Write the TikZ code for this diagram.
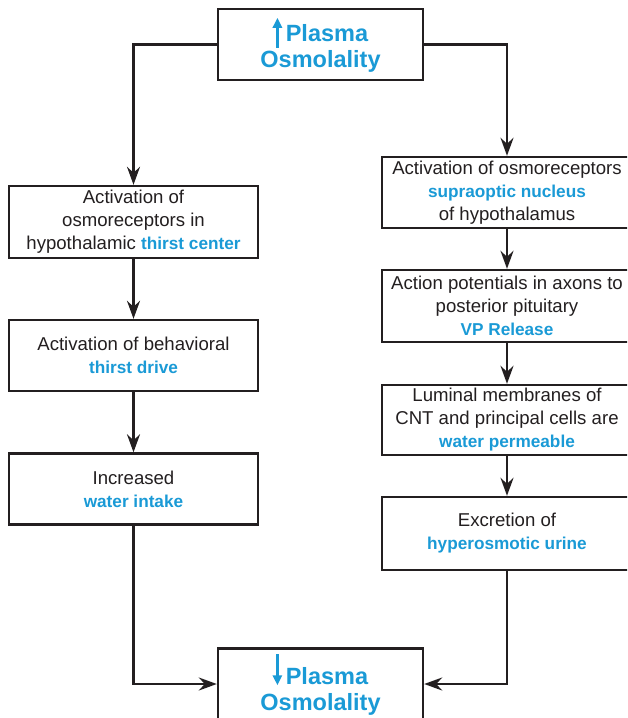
\documentclass[tikz,border=0pt]{standalone}
\usepackage{xcolor}
\usepackage{tikz}
\usepackage{fontspec}
\setmainfont{Liberation Sans}
\usetikzlibrary{arrows.meta,positioning}
\definecolor{OsmoBlue} {HTML}{1A9AD6}
\definecolor{InkBlack} {HTML}{231F20}
\newcommand{\blueword}[1]{{\fontsize{17.2}{23}\selectfont\bfseries\color{OsmoBlue}#1}}
\newcommand{\upArr}{\tikz[baseline=0pt]\draw[OsmoBlue,line width=2.8pt,-{Triangle[length=10pt,width=9pt]}] (0pt,-6pt) -- (0pt,24pt);}
\newcommand{\dnArr}{\tikz[baseline=0pt]\draw[OsmoBlue,line width=2.8pt,-{Triangle[length=10pt,width=9pt]}] (0pt,30pt) -- (0pt,-1pt);}

\begin{document}
\begin{tikzpicture}[x=1pt,y=-1pt,
    box/.style={draw=InkBlack,line width=2.4pt,fill=white,align=center,
                text=InkBlack,inner sep=2pt,
                font=\fontsize{18.6}{23}\selectfont},
    leftbox/.style={box,minimum width=249pt},
    rightbox/.style={box,minimum width=250pt},
    plasma/.style={box,minimum width=205pt,minimum height=71pt,
                   font=\fontsize{23.5}{26}\selectfont\bfseries,text=OsmoBlue},
    arr/.style={draw=InkBlack,line width=2.4pt,-{Stealth[length=18pt,width=13pt,inset=6pt]}}]
    \path[use as bounding box,clip] (0,0) rectangle (627,718);

    % start and end
    \node[plasma] (plasmaUp) at (320.5,44.5) {\upArr\,Plasma\\Osmolality};
    \node[plasma] (plasmaDn) at (320.5,684) {\dnArr\,Plasma\\Osmolality};

    % thirst branch
    \node[leftbox,minimum height=72pt] (thirstCtr) at (133.5,222)
      {Activation of\\osmoreceptors in\\hypothalamic \blueword{thirst center}};
    \node[leftbox,minimum height=71pt] (thirstDrv) at (133.5,355.5)
      {Activation of behavioral\\\blueword{thirst drive}};
    \node[leftbox,minimum height=71pt] (waterIn) at (133.5,489)
      {Increased\\\blueword{water intake}};

    % vasopressin branch
    \node[rightbox,minimum height=71pt] (osmoRec) at (507,192.5)
      {Activation of osmoreceptors\\\blueword{supraoptic nucleus}\\of hypothalamus};
    \node[rightbox,minimum height=72pt] (vpRel) at (507,306)
      {Action potentials in axons to\\posterior pituitary\\\blueword{VP Release}};
    \node[rightbox,minimum height=70pt] (cntPerm) at (507,420)
      {Luminal membranes of\\CNT and principal cells are\\\blueword{water permeable}};
    \node[rightbox,minimum height=73pt] (urineEx) at (507,533.5)
      {Excretion of\\\blueword{hyperosmotic urine}};

    \draw[arr] (plasmaUp.west) -| (thirstCtr.north);
    \draw[arr] (plasmaUp.east) -| (osmoRec.north);
    \draw[arr] (thirstCtr) -- (thirstDrv);
    \draw[arr] (thirstDrv) -- (waterIn);
    \draw[arr] (osmoRec) -- (vpRel);
    \draw[arr] (vpRel) -- (cntPerm);
    \draw[arr] (cntPerm) -- (urineEx);
    \draw[arr] (waterIn.south) |- (plasmaDn.west);
    \draw[arr] (urineEx.south) |- (plasmaDn.east);
\end{tikzpicture}
\end{document}
